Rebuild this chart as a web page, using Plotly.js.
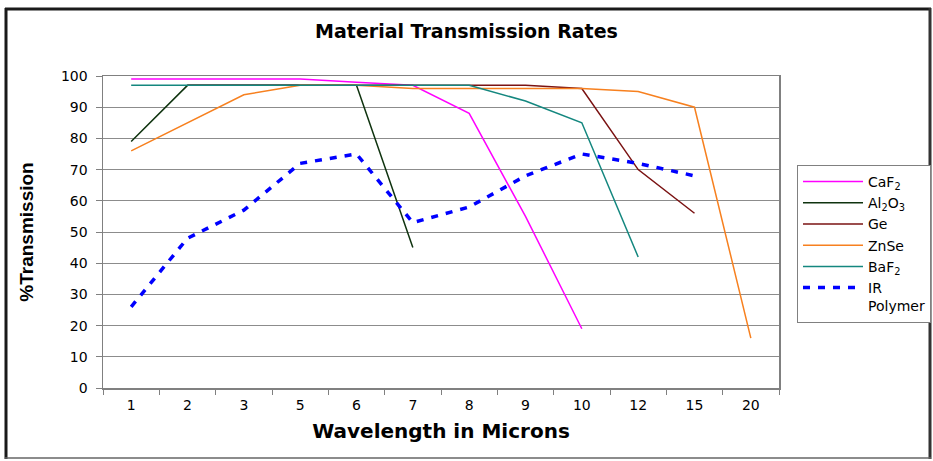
<!DOCTYPE html>
<html>
<head>
<meta charset="utf-8">
<script src="https://cdn.plot.ly/plotly-3.0.1.min.js"></script>
<style>
html,body{margin:0;padding:0;background:#fff;}
#chart{width:933px;height:461px;}
</style>
</head>
<body>
<div id="chart"></div>
<script>
// Wavelength categories (microns)
const wavelengths = ["1","2","3","5","6","7","8","9","10","12","15","20"];

// % transmission per material (null = no data)
const caF2      = [99, 99, 99, 99, 98, 97, 88, 55, 19, null, null, null];
const al2O3     = [79, 97, 97, 97, 97, 45, null, null, null, null, null, null];
const ge        = [null, 97, 97, 97, 97, 97, 97, 97, 96, 70, 56, null];
const znSe      = [76, 85, 94, 97, 97, 96, 96, 96, 96, 95, 90, 16];
const baF2      = [97, 97, 97, 97, 97, 97, 97, 92, 85, 42, null, null];
const irPolymer = [26, 48, 57, 72, 75, 53, 58, 68, 75, 72, 68, null];

const seriesNames = ["CaF<sub>2</sub>", "Al<sub>2</sub>O<sub>3</sub>", "Ge", "ZnSe", "BaF<sub>2</sub>", "IR<br>Polymer"];

const L = 103, T = 76, W = 676, H = 312;
function px(x){ return (x - L) / W; }
function py(y){ return (T + H - y) / H; }

const traces = [
  {y: caF2, color: "#ff00ff", width: 1.5},
  {y: al2O3, color: "#0f330f", width: 1.5},
  {y: ge, color: "#7a1212", width: 1.5},
  {y: znSe, color: "#f7801f", width: 1.5},
  {y: baF2, color: "#14877f", width: 1.5},
  {y: irPolymer, color: "#0000ff", width: 3.5, dash: "7px,8px"}
].map((s, i) => ({
  type: "scatter",
  mode: "lines",
  x: wavelengths,
  y: s.y,
  name: seriesNames[i],
  line: {color: s.color, width: s.width, dash: s.dash || "solid"},
  connectgaps: false,
  hoverinfo: "skip"
}));

const frameColor = "#1a1a1a";
const layout = {
  width: 933, height: 461,
  margin: {l: L, r: 933 - L - W, t: T, b: 461 - T - H, pad: 0},
  paper_bgcolor: "#ffffff",
  plot_bgcolor: "#ffffff",
  font: {family: "DejaVu Sans, Verdana, sans-serif", color: "#000"},
  title: {
    text: "<b>Material Transmission Rates</b>",
    font: {family: "DejaVu Sans, sans-serif", size: 19, color: "#000"},
    x: 0.5, xref: "container", xanchor: "center",
    y: 1 - 31/461, yref: "container", yanchor: "middle"
  },
  xaxis: {
    type: "category",
    categoryorder: "array",
    categoryarray: wavelengths,
    range: [-0.5, wavelengths.length - 0.5],
    showgrid: false,
    showline: true, linecolor: "#808080", linewidth: 1.5, mirror: true,
    ticks: "outside", tickson: "boundaries", ticklen: 5, tickcolor: "#808080", tickwidth: 1,
    tickfont: {family: "DejaVu Sans, sans-serif", size: 14, color: "#000"},
    ticklabelstandoff: 4,
    zeroline: false,
    title: {text: "<b>Wavelength in Microns</b>", font: {family: "DejaVu Sans, sans-serif", size: 20, color: "#000"}, standoff: 11}
  },
  yaxis: {
    range: [0, 100],
    dtick: 10, tick0: 0,
    showgrid: true, gridcolor: "#8c8c8c", gridwidth: 1,
    showline: true, linecolor: "#808080", linewidth: 1.5, mirror: true,
    ticks: "outside", ticklen: 6, tickcolor: "#808080", tickwidth: 1,
    tickfont: {family: "DejaVu Sans, sans-serif", size: 14, color: "#000"},
    ticklabelstandoff: 5,
    zeroline: false,
    title: {text: "<b>%Transmission</b>", font: {family: "Liberation Sans, Arial, sans-serif", size: 19, color: "#000"}, standoff: 22}
  },
  showlegend: true,
  legend: {
    xref: "container", yref: "container",
    x: 797/933, y: 1 - 165/461,
    xanchor: "left", yanchor: "top",
    bgcolor: "#ffffff",
    bordercolor: "#808080", borderwidth: 1,
    font: {family: "DejaVu Sans, sans-serif", size: 14, color: "#000"},
    itemwidth: 60,
    valign: "top",
    tracegroupgap: 0,
    traceorder: "normal"
  },
  shapes: [
    {type: "line", xref: "paper", yref: "paper", x0: px(6), x1: px(6), y0: py(8), y1: py(459), line: {color: frameColor, width: 3}},
    {type: "line", xref: "paper", yref: "paper", x0: px(5), x1: px(931), y0: py(9), y1: py(9), line: {color: frameColor, width: 3}},
    {type: "line", xref: "paper", yref: "paper", x0: px(930), x1: px(930), y0: py(8), y1: py(459), line: {color: "#333333", width: 3}},
    {type: "line", xref: "paper", yref: "paper", x0: px(5), x1: px(931), y0: py(458), y1: py(458), line: {color: "#666666", width: 1.5}}
  ]
};

Plotly.newPlot("chart", traces, layout, {staticPlot: true, displayModeBar: false});
</script>
</body>
</html>
